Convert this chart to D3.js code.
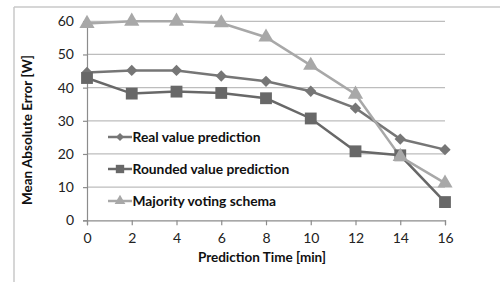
<!DOCTYPE html>
<html><head><meta charset="utf-8">
<script src="https://cdn.jsdelivr.net/npm/d3@7"></script>
<style>body{margin:0;background:#fff}svg{display:block}text{font-family:Lato,"Open Sans",sans-serif}</style>
</head><body><svg id="c" width="500" height="282"></svg>
<script>
const times = [0, 2, 4, 6, 8, 10, 12, 14, 16];
const realValue = [44.6, 45.2, 45.2, 43.5, 41.9, 38.9, 33.8, 24.5, 21.3];
const roundedValue = [42.9, 38.2, 38.8, 38.4, 36.8, 30.7, 20.8, 19.6, 5.5];
const majorityVoting = [59.3, 60.0, 60.0, 59.5, 55.2, 46.7, 38.0, 19.2, 11.2];
const yTicks = [0, 10, 20, 30, 40, 50, 60];
const seriesNames = ["Real value prediction", "Rounded value prediction", "Majority voting schema"];

const svg = d3.select("#c");
const x = d3.scaleLinear().domain([0, 16]).range([87, 445]);
const y = d3.scaleLinear().domain([0, 60]).range([220.3, 21.3]);

// frame
svg.append("line").attr("x1",14).attr("x2",14).attr("y1",7).attr("y2",282).attr("stroke","#c8c8c8").attr("stroke-width",1.5);
svg.append("line").attr("x1",14).attr("x2",500).attr("y1",7).attr("y2",7).attr("stroke","#c8c8c8").attr("stroke-width",1.5);

// gridlines
svg.append("g").selectAll("line").data(yTicks.filter(d=>d>0)).join("line")
  .attr("x1",x(0)).attr("x2",x(16)).attr("y1",d=>y(d)).attr("y2",d=>y(d))
  .attr("stroke","#bdbdbd").attr("stroke-width",1.3);

// axes
const xAxis = svg.append("g").attr("transform",`translate(0,${y(0)})`)
  .call(d3.axisBottom(x).tickValues(times).tickSize(5).tickPadding(8).tickFormat(d3.format("d")));
const yAxis = svg.append("g").attr("transform",`translate(${x(0)},0)`)
  .call(d3.axisLeft(y).tickValues(yTicks).tickSize(4).tickPadding(6));
[xAxis,yAxis].forEach(g=>{
  g.select(".domain").attr("stroke","#8c8c8c").attr("stroke-width",1.2);
  g.selectAll(".tick line").attr("stroke","#8c8c8c").attr("stroke-width",1.2);
  g.selectAll("text").attr("font-size",14).attr("fill","#222").style("font-family","Lato,'Open Sans',sans-serif");
});
yAxis.selectAll("text").attr("dx",-3);

// titles
svg.append("text").attr("x",262).attr("y",262).attr("text-anchor","middle")
  .attr("font-size",13.5).attr("font-weight","bold").attr("fill","#111").text("Prediction Time [min]");
svg.append("text").attr("transform","translate(32,130) rotate(-90)").attr("text-anchor","middle")
  .attr("font-size",13.5).attr("font-weight","bold").attr("fill","#111").text("Mean Absolute Error [W]");

const series = [
  {name: seriesNames[0], vals: realValue, color: "#767676", sym: d3.symbolSquare, size: 64, rot: 45},
  {name: seriesNames[1], vals: roundedValue, color: "#686868", sym: d3.symbolSquare, size: 140, rot: 0},
  {name: seriesNames[2], vals: majorityVoting, color: "#a8a8a8", sym: d3.symbolTriangle, size: 100, rot: 0}
];
const line = d3.line().x((d,i)=>x(times[i])).y(d=>y(d));
series.forEach(s=>{
  svg.append("path").datum(s.vals).attr("d",line).attr("fill","none").attr("stroke",s.color).attr("stroke-width",2.5);
});
series.forEach(s=>{
  svg.append("g").selectAll("path").data(s.vals).join("path")
    .attr("d",d3.symbol().type(s.sym).size(s.size))
    .attr("transform",(d,i)=>`translate(${x(times[i])},${y(d)}) rotate(${s.rot})`)
    .attr("fill",s.color);
});

// legend
const legY = [137, 169, 201];
series.forEach((s,i)=>{
  const g = svg.append("g").attr("transform",`translate(108,${legY[i]})`);
  g.append("line").attr("x1",0).attr("x2",24).attr("stroke",s.color).attr("stroke-width",2.5);
  g.append("path").attr("d",d3.symbol().type(s.sym).size(s.size*0.5)).attr("transform",`translate(12,0) rotate(${s.rot})`).attr("fill",s.color);
  g.append("text").attr("x",24.5).attr("y",5).attr("font-size",13.8).attr("font-weight","bold").attr("fill","#111").text(s.name);
});
</script></body></html>
